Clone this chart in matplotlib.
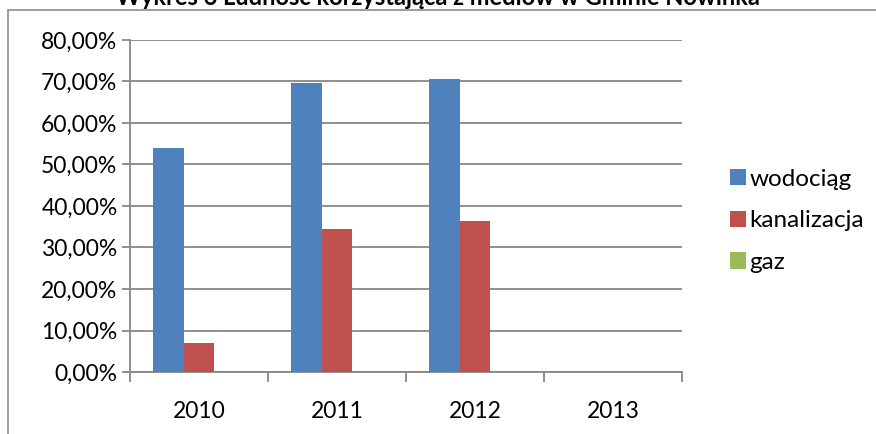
import matplotlib
matplotlib.use("Agg")
import matplotlib.pyplot as plt
from matplotlib.patches import Rectangle
import numpy as np

plt.rcParams['font.family'] = ['Lato', 'DejaVu Sans']

years = ["2010", "2011", "2012", "2013"]
wodociag = [54.0, 69.6, 70.5, 0.0]
kanalizacja = [7.0, 34.4, 36.4, 0.0]
gaz = [0.0, 0.0, 0.0, 0.0]
series_names = ["wodociąg", "kanalizacja", "gaz"]
colors = ["#4F81BD", "#C0504D", "#9BBB59"]
title = "Wykres 6 Ludność korzystająca z mediów w Gminie Nowinka"

fig = plt.figure(figsize=(8.76, 4.34), dpi=100)
W, H = 876, 434
ax = fig.add_axes([130 / W, 1 - 372 / H, 552 / W, 332 / H])

# outer chart border
fig.patches.append(Rectangle((8 / W, -0.1), 1.2, 1 - 10 / H + 0.1, transform=fig.transFigure,
                             fill=False, edgecolor="#8C8C8C", linewidth=1.2))

x = np.arange(len(years))
bw = 1 / 4.5
for i, (vals, name, c) in enumerate(zip([wodociag, kanalizacja, gaz], series_names, colors)):
    ax.bar(x + (i - 1) * bw, vals, width=bw, color=c, label=name, edgecolor="none", zorder=3)

ax.set_xlim(-0.5, 3.5)
ax.set_ylim(0, 80)
yt = np.arange(0, 81, 10)
ax.set_yticks(yt)
ax.set_yticklabels([f"{v:.2f}%".replace(".", ",") for v in yt], fontsize=16.5)
ax.yaxis.grid(True, color="#878787", linewidth=1.3, zorder=0)
ax.set_xticks(x)
ax.set_xticklabels(years, fontsize=16.5)
ax.set_xticks(np.arange(-0.5, 3.6, 1), minor=True)
ax.tick_params(axis="x", which="major", length=0, pad=21)
ax.tick_params(axis="x", which="minor", length=7, color="#878787", width=1.3)
ax.tick_params(axis="y", length=6, color="#878787", width=1.3, pad=3)
for s in ["top", "right"]:
    ax.spines[s].set_visible(False)
for s in ["left", "bottom"]:
    ax.spines[s].set_color("#878787")
    ax.spines[s].set_linewidth(1.3)

leg = fig.legend(loc="upper left", bbox_to_anchor=(720 / W, 1 - 159 / H), frameon=False,
                 fontsize=17.5, handlelength=0.65, handleheight=0.65, handletextpad=0.15,
                 labelspacing=0.85, borderaxespad=0)

fig.text(0.5, 1 + 2 / H, title, ha="center", va="center", fontsize=17, fontweight="bold")

fig.savefig("out.png", dpi=100)
